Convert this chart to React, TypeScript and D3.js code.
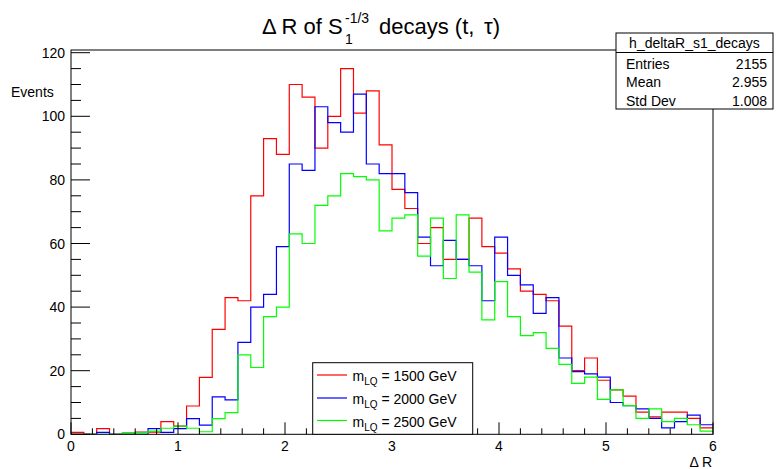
import React from "react";
import * as d3 from "d3";

const NBINS = 50;
const X_MIN = 0;
const X_MAX = 6;

const red1500: number[] = [
  0.6, 0, 1.8, 0, 0, 0.7, 0.7, 4, 2.6, 8.9,
  17.9, 33, 43, 42, 75, 93, 88, 110, 106, 90,
  100, 115, 101, 108, 91, 77, 71, 60, 65, 55,
  55, 68, 59, 57, 52, 45, 44, 42, 34, 20,
  24, 17, 14, 12, 7, 5.5, 7, 7, 5, 2,
];
const blue2000: number[] = [
  0, 0, 0.6, 0, 0, 0, 1.8, 0.6, 1.8, 4.9,
  2.9, 11.8, 10.8, 28.9, 40, 44, 59, 85, 83, 103,
  98, 95, 107, 85, 82, 82, 76, 62, 53, 61,
  55, 53, 42, 62, 50, 47, 38, 43, 24, 19.7,
  19, 18, 10, 9, 8, 5, 2, 4, 6, 3,
];
const green2500: number[] = [
  0, 0, 0, 0, 0.5, 0.5, 1, 1.9, 2.6, 1.9,
  0.8, 4.9, 6.8, 25, 21, 37, 40, 63, 60, 72,
  75, 82, 81, 80, 64, 68, 69, 56, 68, 49,
  69, 51, 36, 48, 37, 31, 32, 27, 22, 16,
  18, 11, 14, 9, 5, 8, 4, 5, 3, 1,
];

const seriesNames = ["1500", "2000", "2500"];
const seriesColors = ["#ff0000", "#0000ff", "#00ff00"];
const seriesData = [red1500, blue2000, green2500];

const xTicks = [0, 1, 2, 3, 4, 5, 6];
const yTicks = [0, 20, 40, 60, 80, 100, 120];

const statsLabels = ["Entries", "Mean", "Std Dev"];
const statsValues = ["2155", "2.955", "1.008"];

const FONT = "'Liberation Sans', Arial, Helvetica, sans-serif";

export default function App() {
  const W = 776;
  const H = 469;
  const left = 71;
  const right = 713;
  const top = 50;
  const bottom = 434.3;

  const x = d3.scaleLinear().domain([X_MIN, X_MAX]).range([left, right]);
  const y = d3.scaleLinear().domain([0, 120.85]).range([bottom, top]);
  const bw = (X_MAX - X_MIN) / NBINS;

  const line = d3
    .line<[number, number]>()
    .x((d) => x(d[0]))
    .y((d) => y(d[1]))
    .curve(d3.curveStepAfter);

  const histPath = (vals: number[]) => {
    const pts: [number, number][] = [[X_MIN, 0]];
    vals.forEach((v, i) => pts.push([X_MIN + i * bw, v]));
    pts.push([X_MAX, vals[vals.length - 1]]);
    return line(pts) || "";
  };

  const xMinor = d3.range(0, 6.0001, 0.2).filter((v) => Math.abs(v - Math.round(v)) > 1e-6);
  const yMinor = d3.range(0, 120.1, 5).filter((v) => v % 20 !== 0);

  const legendRows = [375, 398, 420.5];

  return (
    <svg
      width={W}
      height={H}
      style={{ position: "absolute", left: 0, top: 0, background: "#fff" }}
      fontFamily={FONT}
    >
      <rect x={0} y={0} width={W} height={H} fill="#fff" />
      <defs>
        <clipPath id="plotclip">
          <rect x={left} y={top} width={right - left} height={bottom - top} />
        </clipPath>
      </defs>

      {/* histograms */}
      <g clipPath="url(#plotclip)">
        {seriesData.map((vals, i) => (
          <path key={i} d={histPath(vals)} fill="none" stroke={seriesColors[i]} strokeWidth={1.2} />
        ))}
      </g>

      {/* frame */}
      <rect x={left} y={top} width={right - left} height={bottom - top} fill="none" stroke="#000" strokeWidth={1} />

      {/* y axis ticks */}
      {yTicks.map((t) => (
        <g key={"yt" + t}>
          <line x1={left} x2={left + 19} y1={y(t)} y2={y(t)} stroke="#000" strokeWidth={1} />
          <text x={65} y={y(t) + 5} textAnchor="end" fontSize={14} fill="#000">
            {t}
          </text>
        </g>
      ))}
      {yMinor.map((t) => (
        <line key={"ym" + t} x1={left} x2={left + 10} y1={y(t)} y2={y(t)} stroke="#000" strokeWidth={1} />
      ))}

      {/* x axis ticks */}
      {xTicks.map((t) => (
        <g key={"xt" + t}>
          <line x1={x(t)} x2={x(t)} y1={bottom} y2={bottom - 12} stroke="#000" strokeWidth={1} />
          <text x={x(t)} y={451} textAnchor="middle" fontSize={14} fill="#000">
            {t}
          </text>
        </g>
      ))}
      {xMinor.map((t) => (
        <line key={"xm" + t} x1={x(t)} x2={x(t)} y1={bottom} y2={bottom - 6} stroke="#000" strokeWidth={1} />
      ))}

      {/* axis titles */}
      <text x={712} y={467} textAnchor="end" fontSize={14} fill="#000">
        Δ R
      </text>
      <text x={11} y={97} fontSize={14} fill="#000">
        Events
      </text>

      {/* title */}
      <text x={262} y={34} fontSize={22} fill="#000">
        Δ R of S
      </text>
      <text x={345} y={44} fontSize={14} fill="#000">1</text>
      <text x={345} y={23} fontSize={14} fill="#000">-1/3</text>
      <text x={379} y={34} fontSize={22} fill="#000">
        decays (t,
      </text>
      <text x={484} y={34} fontSize={22} fill="#000">
        τ)
      </text>

      {/* stats box */}
      <rect x={616} y={33} width={157} height={76} fill="#fff" stroke="#000" strokeWidth={1} />
      <line x1={616} x2={773} y1={52.5} y2={52.5} stroke="#000" strokeWidth={1} />
      <text x={694.5} y={48} textAnchor="middle" fontSize={14} fill="#000">
        h_deltaR_s1_decays
      </text>
      {statsLabels.map((l, i) => (
        <g key={l}>
          <text x={626} y={68.5 + i * 18.5} fontSize={14} fill="#000">
            {l}
          </text>
          <text x={767} y={68.5 + i * 18.5} textAnchor="end" fontSize={14} fill="#000">
            {statsValues[i]}
          </text>
        </g>
      ))}

      {/* legend */}
      <rect x={312.7} y={362.7} width={160} height={bottom - 362.7} fill="#fff" stroke="#000" strokeWidth={1} />
      {seriesNames.map((n, i) => (
        <g key={n}>
          <line x1={317} x2={347} y1={legendRows[i]} y2={legendRows[i]} stroke={seriesColors[i]} strokeWidth={1.2} />
          <text x={352.5} y={legendRows[i] + 6} fontSize={14} fill="#000">
            m
            <tspan fontSize={10} dy={4}>LQ</tspan>
            <tspan dy={-4}>{` = ${n} GeV`}</tspan>
          </text>
        </g>
      ))}
    </svg>
  );
}
